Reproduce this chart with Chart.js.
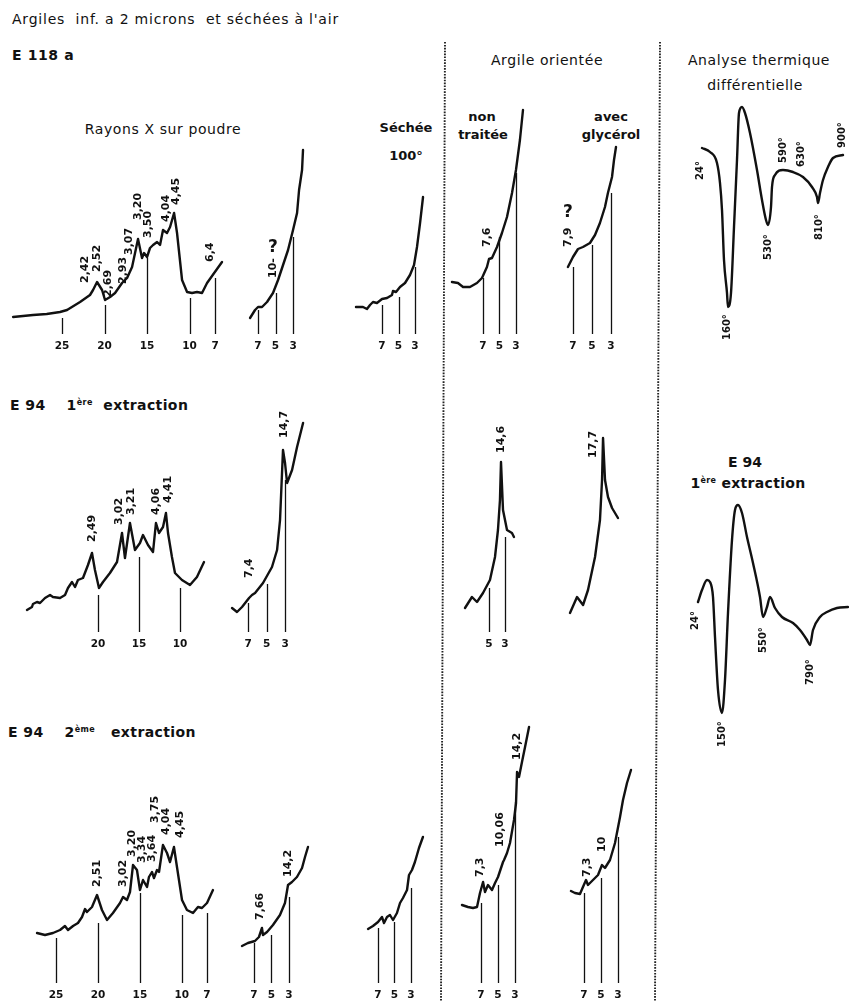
<!DOCTYPE html>
<html lang="fr">
<head>
<meta charset="utf-8">
<title>Argiles inf. à 2 microns – diffraction X et ATD</title>
<script src="https://cdn.jsdelivr.net/npm/chart.js@4.4.1/dist/chart.umd.min.js"></script>
<style>
  html, body { margin: 0; padding: 0; background: #fff; }
  #page { position: relative; width: 849px; height: 1001px; overflow: hidden; background: #fff;
          font-family: "DejaVu Sans", sans-serif; color: #111; }
  .t { position: absolute; white-space: pre; line-height: 1; }
  .c { transform: translateX(-50%); text-align: center; }
  .b { font-weight: bold; }
  .s13 { font-size: 13px; }
  .s14 { font-size: 14px; }
  .wide { letter-spacing: 0.6px; }
  sup { font-size: 8px; vertical-align: 5px; line-height: 0; }
  canvas { position: absolute; }
  svg { position: absolute; left: 0; top: 0; }
</style>
</head>
<body>
<div id="page">
  <svg width="849" height="1001">
    <line x1="445" y1="42" x2="441" y2="1001" stroke="#222" stroke-width="1.9" stroke-dasharray="1.6 1.3"/>
    <line x1="660" y1="42" x2="655" y2="1001" stroke="#222" stroke-width="1.9" stroke-dasharray="1.6 1.3"/>
  </svg>

  <div class="t s14" style="left:12px;top:12px;letter-spacing:0.78px;">Argiles  inf. a 2 microns  et séchées à l'air</div>
  <div class="t s14 b" style="left:12px;top:48px;letter-spacing:0.6px;">E 118 a</div>
  <div class="t s14 c wide" style="left:163px;top:122px;">Rayons X sur poudre</div>
  <div class="t s13 b c" style="left:406px;top:121px;">Séchée</div>
  <div class="t s13 b c" style="left:406px;top:149px;">100°</div>
  <div class="t s14 c wide" style="left:547px;top:53px;">Argile orientée</div>
  <div class="t s13 b c" style="left:482px;top:110px;">non</div>
  <div class="t s13 b c" style="left:483px;top:128px;">traitée</div>
  <div class="t s13 b c" style="left:611px;top:110px;">avec</div>
  <div class="t s13 b c" style="left:611px;top:128px;">glycérol</div>
  <div class="t s14 c wide" style="left:759px;top:53px;">Analyse thermique</div>
  <div class="t s14 c" style="left:755px;top:78px;letter-spacing:0.5px;">différentielle</div>

  <div class="t s14 b" style="left:10px;top:398px;letter-spacing:0.4px;">E 94    1<sup>ère</sup>  extraction</div>
  <div class="t s14 b c" style="left:745px;top:455px;">E 94</div>
  <div class="t s14 b c" style="left:748px;top:476px;letter-spacing:0.3px;">1<sup>ère</sup> extraction</div>
  <div class="t s14 b" style="left:8px;top:725px;letter-spacing:0.4px;">E 94    2<sup>ème</sup>   extraction</div>
</div>

<script>
// ---------------------------------------------------------------
// Diffractogrammes : [angle θ (°), intensité] ; repères : [θ, hauteur]
// Étiquettes : [texte, θ, intensité du pied de l'étiquette, mode]
// ---------------------------------------------------------------
const WIDE_TICKS  = [25, 20, 15, 10, 7];
const SMALL_TICKS = [7, 5, 3];

// E 118 a
const E118_POWDER = [[30.76,17],[28.41,19],[26.8,20],[25.24,22],[24.41,24],[22.88,32],[21.71,39],[21.35,44],[20.88,52],[20.29,44],[19.94,34],[19.35,37],[18.76,41],[17.94,51],[17.35,56],[16.76,67],[16.41,81],[16.06,95],[15.59,76],[15.35,81],[15.0,77],[14.65,86],[14.29,89],[13.82,92],[13.47,89],[13.12,104],[12.65,101],[12.29,107],[11.82,121],[11.47,101],[10.88,54],[10.29,42],[9.71,41],[9.12,42],[8.53,41],[7.94,51],[6.18,72]];
const E118_POWDER_MARKS = [[25,16],[20,29],[15,76],[10,36],[7,56]];
const E118_POWDER_PEAKS = [['2,42',22.29,51],['2,52',20.88,62],['2,69',19.59,37],['2,93',17.82,50],['3,07',17.15,79],['3,20',16.06,114],['3,50',14.88,96],['4,04',12.76,112],['4,45',11.59,129],['6,4',7.59,72]];

const E118_SMALL = [[7.91,16],[7.34,24],[7.0,27],[6.54,27],[5.97,32],[5.29,41],[4.71,54],[4.14,69],[3.57,84],[3.0,104],[2.54,121],[2.31,144],[1.97,164],[1.86,184]];
const E118_SMALL_MARKS = [[7,24],[5,41],[3,97]];
const E118_SMALL_PEAKS = [['10-',5.29,56],['?',5.29,86,'up']];

const E118_DRY = [[10.15,27],[9.67,27],[9.30,27],[8.82,25],[8.45,29],[8.09,32],[7.61,31],[7.0,35],[6.39,36],[5.79,39],[5.67,43],[5.30,42],[4.82,47],[4.21,51],[3.61,59],[3.12,69],[2.76,87],[2.39,111],[2.03,137]];
const E118_DRY_MARKS = [[7,29],[5,37],[3,67]];

const E118_ORIENT = [[10.76,52],[10.03,51],[9.42,47],[8.58,47],[7.73,51],[7.12,56],[6.52,67],[6.27,75],[5.91,76],[5.30,87],[4.70,101],[4.09,117],[3.48,141],[3.0,164],[2.52,194],[2.15,224]];
const E118_ORIENT_MARKS = [[7,56],[5,97],[3,161]];
const E118_ORIENT_PEAKS = [['7,6',6.52,87]];

const E118_GLYC = [[7.53,67],[7.0,77],[6.47,85],[5.95,87],[5.21,91],[4.68,99],[4.16,111],[3.63,127],[3.32,141],[2.89,157],[2.68,174],[2.47,187]];
const E118_GLYC_MARKS = [[7,67],[5,89],[3,141]];
const E118_GLYC_PEAKS = [['7,9',7.53,87],['?',7.53,121,'up']];

// Analyse thermique différentielle : [temps d'enregistrement (u.a.), ΔT (u.a.)]
const DTA_E118 = [[22,2],[30,-2],[37,-13],[40,-33],[42,-60],[44,-110],[47,-143],[48,-157],[51,-143],[54,-77],[57,-10],[59,37],[62,43],[65,37],[70,17],[77,-20],[82,-50],[86,-70],[88,-75],[91,-57],[92,-37],[95,-25],[103,-20],[113,-22],[123,-27],[132,-37],[137,-47],[138,-53],[140,-43],[143,-30],[148,-17],[153,-8],[163,-5]];
const DTA_E118_TEMPS = [['24°',20,-30],['160°',47,-190],['530°',88,-110],['590°',103,-13],['630°',121,-17],['810°',139,-90],['900°',162,2]];

// E 94 – 1ère extraction
const E94A_POWDER = [[28.66,22],[28.05,25],[27.93,28],[27.44,30],[27.07,29],[26.46,34],[25.85,37],[25.49,35],[24.63,34],[24.02,37],[23.66,44],[23.17,50],[22.80,45],[22.44,52],[21.83,54],[21.22,67],[20.73,79],[20.37,62],[19.88,44],[19.39,50],[18.54,59],[17.68,70],[17.07,99],[16.71,74],[16.10,109],[15.49,82],[14.88,89],[14.51,97],[13.90,87],[13.29,80],[12.93,109],[12.56,99],[12.07,105],[11.71,119],[11.46,99],[10.98,75],[10.61,59],[9.76,52],[8.78,47],[7.93,55],[7.07,70]];
const E94A_POWDER_TICKS = [20, 15, 10];
const E94A_POWDER_MARKS = [[20,37],[15,75],[10,44]];
const E94A_POWDER_PEAKS = [['2,49',20.73,90],['3,02',17.44,107],['3,21',15.98,117],['4,06',12.93,117],['4,41',11.46,129]];

const E94A_SMALL = [[8.73,24],[8.19,20],[7.65,25],[6.89,34],[6.57,37],[6.24,39],[5.38,49],[4.41,65],[3.86,82],[3.54,112],[3.22,182],[3.0,169],[2.78,149],[2.24,162],[1.70,185],[1.05,209]];
const E94A_SMALL_MARKS = [[7,29],[5,48],[3,152]];
const E94A_SMALL_PEAKS = [['7,4',6.89,54],['14,7',3.11,194]];

const E94A_ORIENT = [[8.0,24],[7.13,35],[6.5,30],[5.75,39],[4.88,52],[4.25,75],[3.88,102],[3.63,132],[3.5,170],[3.25,122],[2.75,102],[2.13,99],[1.88,95]];
const E94A_ORIENT_TICKS = [5, 3];
const E94A_ORIENT_MARKS = [[5,44],[3,95]];
const E94A_ORIENT_PEAKS = [['14,6',3.5,179]];

const E94A_GLYC = [[6.89,19],[6.11,35],[5.44,27],[4.89,42],[4.11,75],[3.56,112],[3.33,152],[3.22,194],[3.0,152],[2.67,135],[2.22,124],[1.56,114]];
const E94A_GLYC_PEAKS = [['17,7',4.33,174]];

const DTA_E94 = [[18,-2],[22,10],[27,20],[30,18],[33,3],[35,-37],[38,-90],[42,-113],[45,-80],[48,-13],[52,60],[55,90],[58,95],[62,87],[67,63],[73,37],[80,3],[83,-17],[87,-7],[90,3],[95,-8],[102,-17],[113,-23],[120,-30],[127,-40],[130,-45],[133,-30],[140,-17],[147,-12],[157,-8],[168,-7]];
const DTA_E94_TEMPS = [['24°',15,-30],['150°',42,-147],['550°',83,-53],['790°',130,-85]];

// E 94 – 2ème extraction
const E94B_POWDER = [[27.26,50],[26.31,48],[25.36,50],[24.52,53],[23.93,57],[23.57,53],[22.97,57],[22.38,60],[21.90,66],[21.54,74],[21.31,71],[20.71,76],[20.11,88],[19.52,73],[18.92,63],[18.21,70],[17.37,80],[17.01,86],[16.54,83],[16.18,91],[15.82,118],[15.35,113],[14.99,93],[14.63,103],[14.15,96],[13.92,106],[13.56,111],[13.32,105],[12.96,113],[12.72,111],[12.25,138],[11.77,130],[11.41,121],[10.94,136],[10.58,116],[9.98,83],[9.39,73],[8.67,70],[8.08,76],[7.60,75],[7.0,80],[6.29,93]];
const E94B_POWDER_MARKS = [[25,45],[20,60],[15,90],[10,68],[7,70]];
const E94B_POWDER_PEAKS = [['2,51',20.11,96],['3,02',17.01,96],['3,20',15.94,126],['3,34',14.75,120],['3,64',13.56,121],['3,75',13.2,160],['4,04',11.89,148],['4,45',10.22,145]];

const E94B_SMALL = [[8.37,37],[7.69,40],[6.89,42],[6.43,46],[6.09,55],[5.97,48],[5.51,51],[4.83,58],[4.03,68],[3.46,80],[3.11,98],[2.66,101],[2.09,106],[1.51,115],[1.17,126],[0.83,136]];
const E94B_SMALL_MARKS = [[7,40],[5,48],[3,86]];
const E94B_SMALL_PEAKS = [['7,66',6.31,63],['14,2',3.11,106]];

const E94B_DRY = [[8.21,54],[7.61,57],[7.0,61],[6.52,66],[6.27,60],[5.91,66],[5.55,68],[5.18,63],[4.70,70],[4.33,80],[3.97,85],[3.48,93],[3.24,108],[2.88,113],[2.52,121],[2.03,135],[1.55,146]];
const E94B_DRY_MARKS = [[7,55],[5,61],[3,95]];

const E94B_ORIENT = [[9.24,78],[8.53,76],[7.94,75],[7.47,76],[7.12,90],[6.76,101],[6.53,91],[6.18,98],[5.71,93],[5.35,100],[5.0,106],[4.41,121],[4.29,123],[3.94,130],[3.59,140],[3.12,163],[2.88,180],[2.76,211],[2.53,206],[2.18,221],[1.82,236],[1.35,256]];
const E94B_ORIENT_MARKS = [[7,80],[5,98],[3,181]];
const E94B_ORIENT_PEAKS = [['7,3',7.12,106],['10,06',4.76,136],['14,2',2.76,223]];

const E94B_GLYC = [[8.53,92],[8.06,90],[7.47,89],[7.12,96],[6.76,103],[6.53,98],[5.94,103],[5.35,108],[4.88,118],[4.53,115],[3.94,123],[3.35,140],[2.76,166],[2.41,183],[1.94,200],[1.47,213]];
const E94B_GLYC_MARKS = [[7,90],[5,105],[3,146]];
const E94B_GLYC_PEAKS = [['7,3',6.65,106],['10',4.88,131]];

// ---------------------------------------------------------------
// Mise en page des graphiques : boîte [gauche, haut, largeur, hauteur]
// ---------------------------------------------------------------
const INK = '#111';
const PANELS = [
  { box:[10,150,220,210],  x:[5.24,31.12], y:[-26,184], curve:E118_POWDER, marks:E118_POWDER_MARKS, ticks:WIDE_TICKS,  peaks:E118_POWDER_PEAKS },
  { box:[235,130,80,230],  x:[0.49,9.63],  y:[-26,204], curve:E118_SMALL,  marks:E118_SMALL_MARKS,  ticks:SMALL_TICKS, peaks:E118_SMALL_PEAKS },
  { box:[345,180,90,180],  x:[0.58,11.48], y:[-26,154], curve:E118_DRY,    marks:E118_DRY_MARKS,    ticks:SMALL_TICKS },
  { box:[448,100,90,260],  x:[0.33,11.24], y:[-26,234], curve:E118_ORIENT, marks:E118_ORIENT_MARKS, ticks:SMALL_TICKS, peaks:E118_ORIENT_PEAKS },
  { box:[555,120,80,240],  x:[0.47,8.89],  y:[-26,214], curve:E118_GLYC,   marks:E118_GLYC_MARKS,   ticks:SMALL_TICKS, peaks:E118_GLYC_PEAKS },
  { box:[680,90,169,270],  x:[0,169],      y:[-210,60], curve:DTA_E118, peaks:DTA_E118_TEMPS, dta:true },

  { box:[15,460,205,200],  x:[5.12,30.12], y:[-28,172], curve:E94A_POWDER, marks:E94A_POWDER_MARKS, ticks:E94A_POWDER_TICKS, peaks:E94A_POWDER_PEAKS },
  { box:[225,400,90,260],  x:[-0.24,9.49], y:[-28,232], curve:E94A_SMALL,  marks:E94A_SMALL_MARKS,  ticks:SMALL_TICKS, peaks:E94A_SMALL_PEAKS },
  { box:[455,400,80,260],  x:[-0.75,9.25], y:[-28,232], curve:E94A_ORIENT, marks:E94A_ORIENT_MARKS, ticks:E94A_ORIENT_TICKS, peaks:E94A_ORIENT_PEAKS },
  { box:[560,400,75,260],  x:[-0.33,8.0],  y:[-28,232], curve:E94A_GLYC, peaks:E94A_GLYC_PEAKS },
  { box:[680,490,169,270], x:[0,169],      y:[-160,110], curve:DTA_E94, peaks:DTA_E94_TEMPS, dta:true },

  { box:[20,790,210,211],  x:[4.26,29.29], y:[-18,193], curve:E94B_POWDER, marks:E94B_POWDER_MARKS, ticks:WIDE_TICKS,  peaks:E94B_POWDER_PEAKS },
  { box:[232,830,85,171],  x:[-0.2,9.51],  y:[-18,153], curve:E94B_SMALL,  marks:E94B_SMALL_MARKS,  ticks:SMALL_TICKS, peaks:E94B_SMALL_PEAKS },
  { box:[355,820,85,181],  x:[-0.52,9.79], y:[-18,163], curve:E94B_DRY,    marks:E94B_DRY_MARKS,    ticks:SMALL_TICKS },
  { box:[455,720,85,281],  x:[0.06,10.06], y:[-18,263], curve:E94B_ORIENT, marks:E94B_ORIENT_MARKS, ticks:SMALL_TICKS, peaks:E94B_ORIENT_PEAKS },
  { box:[560,740,80,261],  x:[0.41,9.82],  y:[-18,243], curve:E94B_GLYC,   marks:E94B_GLYC_MARKS,   ticks:SMALL_TICKS, peaks:E94B_GLYC_PEAKS }
];

// Repères verticaux, graduations et étiquettes, placés via les échelles du graphique
function decorations(spec) {
  return {
    id: 'decorations',
    afterDatasetsDraw(chart) {
      const { ctx, scales: { x, y } } = chart;
      const y0 = y.getPixelForValue(0);
      ctx.save();
      ctx.strokeStyle = INK;
      ctx.fillStyle = INK;
      ctx.lineWidth = 1.3;
      (spec.marks || []).forEach(([t, top]) => {
        const px = Math.round(x.getPixelForValue(t)) + 0.5;
        ctx.beginPath();
        ctx.moveTo(px, y0);
        ctx.lineTo(px, y.getPixelForValue(top));
        ctx.stroke();
      });
      ctx.font = 'bold 10.5px "DejaVu Sans"';
      ctx.textAlign = 'center';
      ctx.textBaseline = 'middle';
      (spec.ticks || []).forEach(t => ctx.fillText(String(t), x.getPixelForValue(t), y0 + 12));
      (spec.peaks || []).forEach(([text, t, v, mode]) => {
        const px = x.getPixelForValue(t), py = y.getPixelForValue(v);
        ctx.save();
        if (mode === 'up') {
          ctx.font = 'bold 17px "DejaVu Sans"';
          ctx.textAlign = 'center';
          ctx.textBaseline = 'middle';
          ctx.fillText(text, px, py);
        } else {
          ctx.translate(px, py);
          ctx.rotate(-Math.PI / 2);
          ctx.font = spec.dta ? 'bold 10px "DejaVu Sans"' : 'bold 11px "DejaVu Sans"';
          ctx.textAlign = 'left';
          ctx.textBaseline = 'middle';
          ctx.fillText(text, 0, 0);
        }
        ctx.restore();
      });
      ctx.restore();
    }
  };
}

const page = document.getElementById('page');
PANELS.forEach(spec => {
  const [left, top, w, h] = spec.box;
  const cv = document.createElement('canvas');
  cv.width = w; cv.height = h;
  cv.style.left = left + 'px'; cv.style.top = top + 'px';
  cv.style.width = w + 'px'; cv.style.height = h + 'px';
  page.appendChild(cv);
  new Chart(cv, {
    type: 'line',
    data: {
      datasets: [{
        data: spec.curve.map(([a, b]) => ({ x: a, y: b })),
        borderColor: INK,
        borderWidth: 2.4,
        borderJoinStyle: 'round',
        borderCapStyle: 'round',
        pointRadius: 0,
        fill: false,
        tension: spec.dta ? 0.4 : 0,
        cubicInterpolationMode: spec.dta ? 'monotone' : 'default'
      }]
    },
    options: {
      responsive: false,
      animation: false,
      devicePixelRatio: 1,
      layout: { padding: 0 },
      plugins: { legend: { display: false }, tooltip: { enabled: false }, title: { display: false } },
      scales: {
        x: { type: 'linear', reverse: !spec.dta, min: spec.x[0], max: spec.x[1], display: false },
        y: { type: 'linear', min: spec.y[0], max: spec.y[1], display: false }
      }
    },
    plugins: [decorations(spec)]
  });
});
</script>
</body>
</html>
